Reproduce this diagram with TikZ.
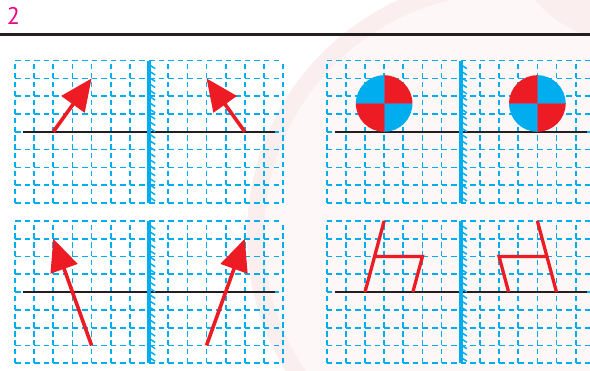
\documentclass[tikz,border=0pt]{standalone}
\usepackage{fontspec}
\newfontfamily\headfont{PT Sans}
\usetikzlibrary{arrows.meta}
\definecolor{ccyan}{HTML}{00AEEF}
\definecolor{cred}{HTML}{ED1C24}
\definecolor{cmagenta}{HTML}{EC008C}
\definecolor{cblack}{HTML}{231F20}
\definecolor{cpink}{HTML}{FAEEEE}
\definecolor{cpinklight}{HTML}{FDF7F7}
\definecolor{cdivide}{HTML}{8C5C8C}
\tikzset{
  gridline/.style={draw=ccyan, line width=1.7pt},
  axis/.style={draw=cblack, line width=2.4pt},
  mirror/.style={draw=ccyan, line width=4pt},
  hatch/.style={draw=ccyan, line width=1.5pt},
  ray/.style={draw=cred, line width=3.6pt, -{Triangle[length=32pt, width=28pt]}},
  chair/.style={draw=cred, line width=3.3pt, line join=miter},
  divider/.style={draw=cdivide, line width=0.5pt},
  rule/.style={draw=cblack, line width=2.7pt},
  number/.style={font=\headfont\fontsize{24}{24}\selectfont, text=cmagenta, inner sep=0pt},
}

\begin{document}
\begin{tikzpicture}
  \useasboundingbox (0,0) rectangle (590pt,371pt);
  % faint background
  \begin{scope}
  \clip (0,0) rectangle (590pt,371pt);
  \fill[cpink] (505pt,136pt) circle (258pt);
  \fill[cpinklight] (505pt,136pt) circle (241pt);
  \fill[cpink] (620pt,441pt) circle (110pt);
  \end{scope}
  % header
  \node[number, anchor=base] (label) at (13.3pt,346pt) {2};
  \draw[rule] (0,336.7pt) -- (590pt,336.7pt);
  % four grids with axis and mirror
  \begin{scope}[x=19.15pt, y=17.8pt]
  \foreach \px/\py in {15/168, 326.7/168, 15/7.7, 326.7/7.7} {
    \begin{scope}[shift={(\px pt,\py pt)}]
    \foreach \j in {0,...,8}
      \draw[gridline] \foreach \h in {0,...,27} {(\h/2,\j) -- ++(5.5pt,0)};
    \foreach \i in {0,...,14}
      \draw[gridline] \foreach \v in {0,...,15} {(\i,\v/2) -- ++(0,5.2pt)};
    \draw[axis] (0.42,4) -- (13.58,4);
    \draw[mirror] (7,0) -- (7,8);
    \foreach \k in {0,...,21} \draw[hatch] (7,0) ++(1.6pt,{\k*6.3pt+5pt}) -- ++(4.5pt,-3pt);
    \end{scope}
  }
  % arrows
  \begin{scope}[shift={(15pt,168pt)}]
    \draw[ray] (2,4) -- (4,7);
    \draw[ray] (12,4) -- (10,7);
  \end{scope}
  \begin{scope}[shift={(15pt,7.7pt)}]
    \draw[ray] (4,1) -- (2,7);
    \draw[ray] (10,1) -- (12,7);
  \end{scope}
  % balls
  \begin{scope}[shift={(326.7pt,168pt)}]
    \coordinate (ball) at ([yshift=28.3pt]3,4);
    \coordinate (image) at ([yshift=28.3pt]11,4);
    \foreach \a/\c in {0/cred, 90/ccyan, 180/cred, 270/ccyan}
      \fill[\c] (ball) -- ++(\a:28.3pt) arc[start angle=\a, delta angle=90, radius=28.3pt] -- cycle;
    \foreach \a/\c in {0/ccyan, 90/cred, 180/ccyan, 270/cred}
      \fill[\c] (image) -- ++(\a:28.3pt) arc[start angle=\a, delta angle=90, radius=28.3pt] -- cycle;
    \draw[divider] ([xshift=-28.3pt]ball) -- ([xshift=28.3pt]ball) ([yshift=-28.3pt]ball) -- ([yshift=28.3pt]ball);
    \draw[divider] ([xshift=-28.3pt]image) -- ([xshift=28.3pt]image) ([yshift=-28.3pt]image) -- ([yshift=28.3pt]image);
  \end{scope}
  % chairs
  \begin{scope}[shift={(326.7pt,7.7pt)}]
    \draw[chair] (3,8) -- (2,4) (2.5,6) -- (5,6) -- (4.5,4);
    \draw[chair] (11,8) -- (12,4) (11.5,6) -- (9,6) -- (9.5,4);
  \end{scope}
  \end{scope}
\end{tikzpicture}
\end{document}
